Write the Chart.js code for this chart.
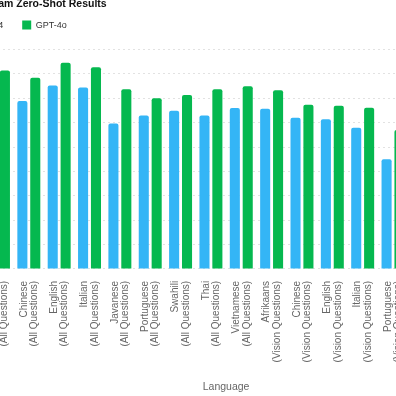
<!DOCTYPE html>
<html>
<head>
<meta charset="utf-8">
<script src="https://cdn.jsdelivr.net/npm/chart.js@4.4.1/dist/chart.umd.min.js"></script>
<style>
  html, body { margin: 0; padding: 0; background: #fff; overflow: hidden; }
  #wrap { position: relative; width: 396px; height: 396px; overflow: hidden; }
  #m3exam { position: absolute; left: -60px; top: -2px; }
</style>
</head>
<body>
<div id="wrap"><canvas id="m3exam" width="540" height="400"></canvas></div>
<script>
let languages = ["Afrikaans", "Chinese", "English", "Italian", "Javanese", "Portuguese", "Swahili", "Thai", "Vietnamese",
  "Afrikaans", "Chinese", "English", "Italian", "Portuguese", "Thai", "Vietnamese"]
let questionSets = ["(All Questions)", "(All Questions)", "(All Questions)", "(All Questions)", "(All Questions)",
  "(All Questions)", "(All Questions)", "(All Questions)", "(All Questions)",
  "(Vision Questions)", "(Vision Questions)", "(Vision Questions)", "(Vision Questions)",
  "(Vision Questions)", "(Vision Questions)", "(Vision Questions)"]
let gpt4 = [0.72, 0.689, 0.753, 0.744, 0.597, 0.63, 0.649, 0.63, 0.66, 0.657, 0.62, 0.614, 0.579, 0.45, 0.48, 0.52]
let gpt4o = [0.814, 0.784, 0.846, 0.828, 0.737, 0.70, 0.714, 0.737, 0.75, 0.733, 0.674, 0.67, 0.661, 0.57, 0.59, 0.62]
let yTicks = [0, 0.1, 0.2, 0.3, 0.4, 0.5, 0.6, 0.7, 0.8, 0.9]

let labels = []
for (let i = 0; i < languages.length; i++) {
  labels.push([languages[i], questionSets[i]])
}

const fontFamily = '"Liberation Sans", Arial, sans-serif'

// more room under the legend
const legendMargin = {
  id: 'legendMargin',
  beforeInit(chart) {
    const fit = chart.legend.fit
    chart.legend.fit = function () {
      fit.bind(chart.legend)()
      this.height += 10
    }
  }
}

// title sits a bit further right than the legend
const titleShift = {
  id: 'titleShift',
  afterLayout(chart) {
    chart.titleBlock.left += 26
  }
}

new Chart(document.getElementById("m3exam"), {
  type: 'bar',
  data: {
    labels: labels,
    datasets: [
      {
        label: "GPT-4",
        data: gpt4,
        backgroundColor: '#34b5f6',
        borderRadius: 2,
        barPercentage: 0.78,
        categoryPercentage: 0.85
      },
      {
        label: "GPT-4o",
        data: gpt4o,
        backgroundColor: '#05b84f',
        borderRadius: 2,
        barPercentage: 0.78,
        categoryPercentage: 0.85
      }
    ]
  },
  options: {
    responsive: false,
    animation: false,
    layout: {
      padding: { left: 4.7, right: 11.1, top: 0, bottom: 0 }
    },
    plugins: {
      title: {
        display: true,
        text: "M3Exam Zero-Shot Results",
        align: 'start',
        color: '#111',
        font: { family: fontFamily, size: 10.5, weight: 'bold', lineHeight: 1.2 },
        padding: { top: 0, bottom: -9 }
      },
      legend: {
        align: 'start',
        labels: {
          boxWidth: 9,
          boxHeight: 9,
          padding: 19,
          color: '#333',
          font: { family: fontFamily, size: 9 }
        }
      },
      tooltip: { enabled: false }
    },
    scales: {
      x: {
        grid: { display: false },
        border: { display: false },
        ticks: {
          autoSkip: false,
          minRotation: 90,
          maxRotation: 90,
          padding: 4,
          labelOffset: -5,
          color: '#666',
          font: { family: fontFamily, size: 10, lineHeight: 1.05 }
        },
        title: {
          display: true,
          text: "Language",
          color: '#666',
          font: { family: fontFamily, size: 10.5, lineHeight: 1.2 },
          padding: { top: 14, bottom: 5 }
        }
      },
      y: {
        min: 0,
        max: 0.9,
        afterFit(axis) {
          axis.width = 38.6
        },
        afterBuildTicks(axis) {
          axis.ticks = yTicks.map(v => ({ value: v }))
        },
        grid: {
          color: '#e2e2e2',
          drawTicks: false
        },
        border: { display: false, dash: [2, 3] },
        ticks: {
          color: '#666',
          font: { family: fontFamily, size: 9 }
        },
        title: {
          display: true,
          text: "Accuracy",
          color: '#666',
          font: { family: fontFamily, size: 10 }
        }
      }
    }
  },
  plugins: [legendMargin, titleShift]
});
</script>
</body>
</html>
